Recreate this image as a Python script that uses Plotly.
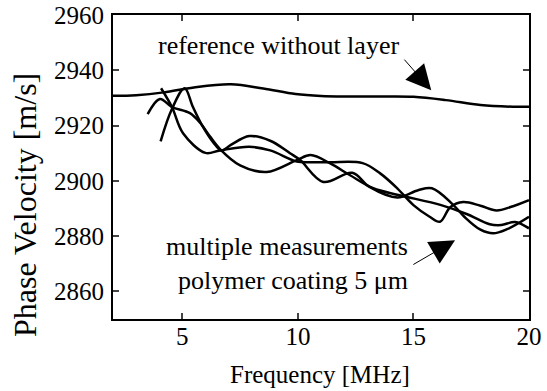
import plotly.graph_objects as go

# Reference (no layer)
ref_x = [2, 3, 4.2, 5.5, 7.1, 8.5, 9.9, 11, 12.1, 13.5, 15, 16.4, 17.9, 19.3, 20]
ref_y = [2930.8, 2931, 2932, 2933.8, 2934.9, 2933.4, 2931.4, 2930.7, 2930.5, 2930.5, 2930.4, 2929.2, 2927.4, 2926.8, 2926.8]

# Measurement 1
m1_x = [3.5, 4.03, 4.55, 5.33, 5.77, 6.2, 6.63, 7.5, 8.65, 9.95, 10.55, 11.4, 12.26, 13.26, 14.4, 16.2, 17.3, 18.3, 18.8, 19.4, 20]
m1_y = [2924.1, 2929.6, 2926.7, 2924.5, 2921, 2916, 2911.5, 2905.6, 2903.2, 2907.5, 2909.3, 2906.3, 2902, 2897.3, 2894.8, 2891.2, 2888, 2884.3, 2884, 2885.1, 2882.8]

# Measurement 2
m2_x = [4.06, 4.55, 5.1, 5.46, 5.9, 6.33, 6.7, 7.1, 7.9, 8.8, 9.66, 10.1, 11.1, 12.35, 13.1, 14.3, 15.2, 15.8, 16.7, 17.2, 17.9, 18.45, 19.05, 20]
m2_y = [2914.3, 2926, 2933.5, 2926.7, 2919.4, 2914, 2911, 2913, 2916.2, 2914.5, 2910, 2907.5, 2899.6, 2902.9, 2897.8, 2894, 2896.6, 2897.3, 2891.5, 2887, 2882.3, 2881, 2882.5, 2887]

# Measurement 3
m3_x = [4.08, 4.55, 5.03, 6.0, 6.63, 7.9, 8.8, 9.95, 10.5, 11.4, 12.8, 13.56, 14.3, 15.0, 15.7, 16.15, 16.6, 17.15, 17.9, 18.6, 19.2, 20]
m3_y = [2933.5, 2926.7, 2917.2, 2910.1, 2911, 2912.3, 2911, 2907, 2906.7, 2906.7, 2906.4, 2902.7, 2897.3, 2891.2, 2887, 2885.2, 2890.5, 2892.3, 2891, 2889.3, 2890.5, 2893]

x_ticks = [5, 10, 15, 20]
y_ticks = [2860, 2880, 2900, 2920, 2940, 2960]

FONT = "Liberation Serif, Times New Roman, serif"

fig = go.Figure()
for xs, ys in [(ref_x, ref_y), (m1_x, m1_y), (m2_x, m2_y), (m3_x, m3_y)]:
    fig.add_trace(go.Scatter(x=xs, y=ys, mode="lines",
                             line=dict(color="black", width=2.5, shape="spline", smoothing=1.0),
                             showlegend=False, hoverinfo="skip"))

fig.update_layout(
    width=547, height=391,
    margin=dict(l=113, r=18, t=15, b=72, autoexpand=False),
    paper_bgcolor="white", plot_bgcolor="white",
    font=dict(family=FONT, size=25, color="black"),
    xaxis=dict(range=[2, 20], tickvals=x_ticks, ticks="inside", ticklen=6, tickwidth=1.5,
               showline=True, linecolor="black", linewidth=2, mirror="ticks",
               showgrid=False, zeroline=False, tickfont=dict(size=25), automargin=False,
               ticklabelstandoff=-6, ticklabeloverflow="allow"),
    yaxis=dict(range=[2850, 2960], tickvals=y_ticks, ticks="inside", ticklen=6, tickwidth=1.5,
               showline=True, linecolor="black", linewidth=2, mirror="ticks",
               showgrid=False, zeroline=False, tickfont=dict(size=25), automargin=False,
               ticklabelstandoff=2, ticklabeloverflow="allow"),
)

fig.add_annotation(xref="paper", yref="paper", x=-0.2115, y=0.375, text="Phase Velocity [m/s]",
                   textangle=-90, showarrow=False, font=dict(size=32),
                   xanchor="center", yanchor="middle")
fig.add_annotation(xref="paper", yref="paper", x=0.4976, y=-0.184, text="Frequency [MHz]",
                   showarrow=False, font=dict(size=25), xanchor="center", yanchor="middle")

fig.add_annotation(x=9.14, y=2949.1, text="reference without layer", showarrow=False,
                   font=dict(size=26), xanchor="center", yanchor="middle")
fig.add_annotation(x=15.77, y=2932.8, ax=14.55, ay=2944.4, axref="x", ayref="y",
                   text="", showarrow=True, arrowhead=2, arrowsize=5, arrowwidth=1, arrowcolor="black")

fig.add_annotation(x=14.86, y=2870.1, text="multiple measurements<br>polymer coating 5 μm",
                   showarrow=False, font=dict(size=26), xanchor="right", yanchor="middle", align="right")
fig.add_annotation(x=16.8, y=2878.5, ax=14.93, ay=2869.4, axref="x", ayref="y",
                   text="", showarrow=True, arrowhead=2, arrowsize=5, arrowwidth=1, arrowcolor="black")

fig.write_html("out.html", config={"displayModeBar": False},
               post_script="document.body.style.margin='0px';")
